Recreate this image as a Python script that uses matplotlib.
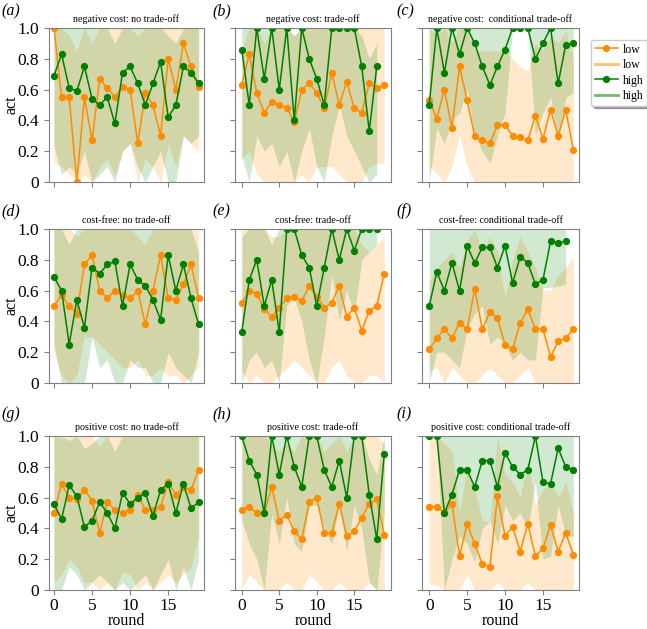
import numpy as np
import matplotlib
matplotlib.use("Agg")
import matplotlib.pyplot as plt
from matplotlib.lines import Line2D

# data: mean act per round for "low" and "high" groups, plus shaded band
nan = np.nan
rounds = np.arange(20)

titles = ["negative cost: no trade-off", "negative cost: trade-off",
          "negative cost:  conditional trade-off",
          "cost-free: no trade-off", "cost-free: trade-off",
          "cost-free: conditional trade-off",
          "positive cost: no trade-off", "positive cost: trade-off",
          "positive cost: conditional trade-off"]
panel_labels = ["(a)", "(b)", "(c)", "(d)", "(e)", "(f)", "(g)", "(h)", "(i)"]

# (a)
a_low = [1.0, 0.55, 0.55, 0.0, 0.55, 0.27, 0.67, 0.61, 0.55, 0.62, 0.6, 0.25, 0.58, 0.5, 0.3, 0.8, 0.6, 0.9, 0.75, 0.62]
a_low_lo = [0.12, 0.1, 0.05, 0.0, 0.05, 0.0, 0.1, 0.15, 0.05, 0.2, 0.25, 0.0, 0.15, 0.1, 0.0, 0.25, 0.1, 0.3, 0.25, 0.2]
a_low_hi = [1.0, 1.0, 0.95, 0.85, 1.0, 0.9, 1.0, 1.0, 1.0, 1.0, 1.0, 0.95, 1.0, 1.0, 1.0, 1.0, 1.0, 1.0, 1.0, 1.0]
a_high = [0.69, 0.83, 0.61, 0.59, 0.75, 0.54, 0.5, 0.55, 0.38, 0.71, 0.75, 0.64, 0.5, 0.64, 0.78, 0.42, 0.5, 0.75, 0.71, 0.64]
a_high_lo = [0.23, 0.05, 0.1, 0.05, 0.2, 0.0, 0.05, 0.1, 0.0, 0.2, 0.25, 0.1, 0.0, 0.1, 0.2, 0.0, 0.0, 0.3, 0.25, 0.3]
a_high_hi = [1.0, 1.0, 1.0, 1.0, 1.0, 1.0, 1.0, 1.0, 0.9, 1.0, 1.0, 1.0, 1.0, 1.0, 1.0, 0.95, 0.9, 1.0, 1.0, 1.0]

# (b)
b_low = [0.63, 0.83, 0.58, 0.45, 0.52, 0.5, 0.48, 0.39, 0.6, 0.64, 0.58, 0.48, 0.71, 0.5, 0.65, 0.48, 0.45, 0.64, 0.61, 0.63]
b_low_lo = [0.15, 0.2, 0.05, 0.0, 0.0, 0.0, 0.0, 0.0, 0.05, 0.0, 0.1, 0.1, 0.1, 0.05, 0.0, 0.0, 0.0, 0.1, 0.12, 0.12]
b_low_hi = [0.85, 1.0, 1.0, 0.9, 1.0, 1.0, 1.0, 0.95, 1.0, 1.0, 1.0, 1.0, 1.0, 1.0, 1.0, 1.0, 1.0, 1.0, 1.0, 1.0]
b_high = [0.86, 0.5, 1.0, 0.67, 1.0, 0.6, 1.0, 0.4, 1.0, 0.8, 0.67, 0.5, 1.0, 1.0, 1.0, 1.0, 0.75, 0.33, 0.75, nan]
b_high_lo = [0.17, 0.0, 0.3, 0.2, 0.25, 0.1, 0.2, 0.0, 0.2, 0.35, 0.1, 0.0, 0.3, 0.5, 0.3, 0.2, 0.1, 0.0, 0.05, nan]
b_high_hi = [1.0, 1.0, 1.0, 1.0, 1.0, 1.0, 1.0, 0.95, 1.0, 1.0, 1.0, 1.0, 1.0, 1.0, 1.0, 1.0, 0.95, 0.8, 0.9, nan]

# (c)
c_low = [0.53, 0.41, 0.6, 0.35, 0.75, 0.53, 0.3, 0.27, 0.25, 0.37, 0.37, 0.3, 0.29, 0.27, 0.43, 0.28, 0.47, 0.3, 0.47, 0.21]
c_low_lo = [0.1, 0.05, 0.0, 0.1, 0.3, 0.1, 0.0, 0.0, 0.0, 0.0, 0.0, 0.0, 0.0, 0.0, 0.0, 0.0, 0.0, 0.0, 0.0, 0.0]
c_low_hi = [1.0, 0.95, 1.0, 0.9, 1.0, 1.0, 0.85, 0.85, 0.85, 0.85, 0.85, 0.8, 0.75, 0.72, 0.9, 0.85, 0.95, 0.9, 0.98, 0.8]
c_high = [0.5, 1.0, 0.71, 1.0, 0.83, 1.0, 0.9, 0.75, 0.63, 0.75, 0.86, 1.0, 1.0, 1.0, 0.8, 0.9, 1.0, 0.64, 0.89, 0.9]
c_high_lo = [0.0, 0.35, 0.25, 0.4, 0.45, 0.6, 0.3, 0.2, 0.12, 0.3, 0.45, 1.0, 1.0, 1.0, 0.3, 0.45, 0.55, 0.25, 0.55, 0.58]
c_high_hi = [1.0, 1.0, 1.0, 1.0, 1.0, 1.0, 1.0, 1.0, 1.0, 1.0, 1.0, 1.0, 1.0, 1.0, 1.0, 1.0, 1.0, 1.0, 1.0, 1.0]

# (d)
d_low = [0.5, 0.57, 0.5, 0.45, 0.77, 0.83, 0.6, 0.55, 0.6, 0.57, 0.55, 0.6, 0.38, 0.6, 0.83, 0.55, 0.54, 0.64, 0.77, 0.55]
d_low_lo = [0.2, 0.05, 0.0, 0.05, 0.3, 0.3, 0.25, 0.2, 0.15, 0.1, 0.1, 0.15, 0.05, 0.05, 0.1, 0.05, 0.05, 0.0, 0.05, 0.1]
d_low_hi = [1.0, 1.0, 1.0, 0.95, 1.0, 1.0, 1.0, 1.0, 1.0, 1.0, 1.0, 0.95, 0.9, 1.0, 1.0, 1.0, 1.0, 1.0, 1.0, 1.0]
d_high = [0.69, 0.6, 0.25, 0.54, 0.36, 0.75, 0.71, 0.77, 0.79, 0.5, 0.77, 0.67, 0.63, 0.54, 0.41, 0.83, 0.6, 0.77, 0.55, 0.38]
d_high_lo = [0.25, 0.0, 0.0, 0.0, 0.0, 0.3, 0.1, 0.15, 0.0, 0.0, 0.15, 0.1, 0.1, 0.0, 0.0, 0.2, 0.1, 0.05, 0.0, 0.2]
d_high_hi = [1.0, 1.0, 0.9, 1.0, 1.0, 1.0, 1.0, 1.0, 1.0, 1.0, 1.0, 1.0, 1.0, 1.0, 1.0, 1.0, 1.0, 1.0, 1.0, 0.85]

# (e)
e_low = [0.52, 0.6, 0.58, 0.48, 0.43, 0.49, 0.55, 0.56, 0.53, 0.63, 0.56, 0.49, 0.52, 0.63, 0.43, 0.49, 0.34, 0.47, 0.5, 0.71]
e_low_lo = [0.08, 0.0, 0.05, 0.0, 0.0, 0.05, 0.1, 0.15, 0.1, 0.05, 0.0, 0.0, 0.1, 0.15, 0.05, 0.0, 0.0, 0.05, 0.05, 0.0]
e_low_hi = [1.0, 1.0, 1.0, 1.0, 0.95, 0.95, 1.0, 1.0, 1.0, 1.0, 1.0, 1.0, 1.0, 1.0, 1.0, 1.0, 0.9, 0.85, 0.9, 0.95]
e_high = [0.33, 0.67, 0.8, 0.5, 0.67, 0.33, 1.0, 1.0, 0.83, 0.75, 0.5, 0.75, 1.0, 0.8, 1.0, 0.86, 1.0, 1.0, 1.0, nan]
e_high_lo = [0.0, 0.15, 0.2, 0.1, 0.15, 0.0, 0.5, 0.55, 0.4, 0.15, 0.0, 0.3, 0.7, 0.4, 0.6, 0.45, 0.8, 0.85, 0.9, nan]
e_high_hi = [0.95, 1.0, 1.0, 1.0, 0.9, 1.0, 1.0, 1.0, 1.0, 1.0, 1.0, 1.0, 1.0, 1.0, 1.0, 1.0, 1.0, 1.0, 1.0, nan]

# (f)
f_low = [0.22, 0.29, 0.35, 0.29, 0.39, 0.35, 0.61, 0.35, 0.46, 0.42, 0.25, 0.22, 0.39, 0.48, 0.35, 0.35, 0.17, 0.27, 0.29, 0.35]
f_low_lo = [0.08, 0.1, 0.0, 0.1, 0.05, 0.0, 0.0, 0.05, 0.1, 0.05, 0.0, 0.0, 0.05, 0.1, 0.0, 0.0, 0.0, 0.0, 0.0, 0.0]
f_low_hi = [0.65, 0.75, 0.8, 0.85, 0.75, 0.92, 1.0, 0.85, 0.95, 0.85, 0.55, 0.8, 0.95, 0.85, 0.75, 0.6, 0.6, 0.7, 0.75, 0.82]
f_high = [0.5, 0.72, 0.6, 0.78, 0.6, 0.89, 0.78, 0.88, 0.88, 0.75, 0.89, 0.65, 0.82, 0.78, 0.64, 0.67, 0.92, 0.91, 0.92, nan]
f_high_lo = [0.0, 0.2, 0.2, 0.15, 0.1, 0.35, 0.45, 0.5, 0.25, 0.3, 0.25, 0.15, 0.2, 0.15, 0.15, 0.62, 0.62, 0.63, 0.64, nan]
f_high_hi = [1.0, 1.0, 1.0, 1.0, 1.0, 1.0, 1.0, 1.0, 1.0, 1.0, 1.0, 1.0, 1.0, 1.0, 1.0, 1.0, 1.0, 1.0, 1.0, nan]

# (g)
g_low = [0.5, 0.69, 0.6, 0.59, 0.65, 0.58, 0.37, 0.57, 0.52, 0.5, 0.52, 0.62, 0.52, 0.52, 0.54, 0.7, 0.62, 0.67, 0.65, 0.78]
g_low_lo = [0.05, 0.1, 0.2, 0.15, 0.05, 0.05, 0.0, 0.05, 0.0, 0.12, 0.1, 0.0, 0.05, 0.0, 0.05, 0.1, 0.05, 0.1, 0.15, 0.35]
g_low_hi = [1.0, 0.98, 1.0, 1.0, 1.0, 1.0, 0.93, 1.0, 1.0, 1.0, 1.0, 1.0, 1.0, 1.0, 1.0, 1.0, 1.0, 1.0, 1.0, 1.0]
g_high = [0.56, 0.46, 0.68, 0.61, 0.41, 0.45, 0.57, 0.5, 0.4, 0.63, 0.56, 0.6, 0.63, 0.48, 0.65, 0.69, 0.5, 0.69, 0.53, 0.57]
g_high_lo = [0.0, 0.0, 0.15, 0.1, 0.0, 0.05, 0.1, 0.05, 0.0, 0.05, 0.0, 0.05, 0.1, 0.0, 0.1, 0.2, 0.0, 0.15, 0.0, 0.2]
g_high_hi = [1.0, 1.0, 0.97, 1.0, 0.92, 0.95, 1.0, 1.0, 0.9, 1.0, 1.0, 1.0, 1.0, 1.0, 1.0, 1.0, 1.0, 1.0, 1.0, 1.0]

# (h)
h_low = [0.52, 0.54, 0.5, 0.5, 0.67, 0.45, 0.49, 0.38, 0.33, 0.57, 0.6, 0.37, 0.37, 0.56, 0.35, 0.38, 0.47, 0.56, 0.59, 0.36]
h_low_lo = [0.0, 0.1, 0.05, 0.0, 0.0, 0.0, 0.05, 0.0, 0.0, 0.1, 0.05, 0.0, 0.0, 0.05, 0.0, 0.0, 0.0, 0.05, 0.0, 0.0]
h_low_hi = [1.0, 1.0, 1.0, 1.0, 0.95, 0.9, 0.95, 0.9, 1.0, 1.0, 1.0, 0.9, 0.95, 1.0, 0.9, 1.0, 1.0, 1.0, 1.0, 0.95]
h_high = [1.0, 0.84, 0.75, 0.5, 1.0, 0.75, 1.0, 0.8, 0.67, 1.0, 1.0, 0.78, 0.67, 0.84, 0.6, 1.0, 1.0, 0.62, 0.33, 0.88]
h_high_lo = [0.45, 0.3, 0.2, 0.0, 0.5, 0.3, 0.6, 0.3, 0.25, 0.55, 0.55, 0.4, 0.3, 0.55, 0.25, 0.55, 0.4, 0.05, 0.0, 0.5]
h_high_hi = [1.0, 1.0, 1.0, 1.0, 1.0, 1.0, 1.0, 1.0, 1.0, 1.0, 1.0, 1.0, 1.0, 1.0, 1.0, 1.0, 1.0, 0.85, 0.75, 1.0]

# (i)
i_low = [0.54, 0.54, 0.5, 0.56, 0.22, 0.43, 0.3, 0.17, 0.15, 0.61, 0.35, 0.41, 0.25, 0.43, 0.22, 0.27, 0.42, 0.25, 0.37, 0.23]
i_low_lo = [0.04, 0.03, 0.0, 0.0, 0.0, 0.1, 0.0, 0.0, 0.0, 0.05, 0.0, 0.0, 0.0, 0.05, 0.0, 0.0, 0.0, 0.0, 0.0, 0.0]
i_low_hi = [1.0, 1.0, 0.95, 0.9, 0.5, 0.8, 0.65, 0.45, 0.45, 1.0, 0.75, 0.7, 0.6, 0.85, 0.55, 0.65, 0.7, 0.6, 0.7, 0.5]
i_high = [1.0, 1.0, 0.5, 0.62, 0.78, 0.78, 0.67, 0.84, 0.84, 0.67, 0.89, 0.8, 0.75, 0.78, 1.0, 0.7, 0.69, 0.92, 0.8, 0.78]
i_high_lo = [1.0, 1.0, 0.0, 0.2, 0.35, 0.3, 0.18, 0.4, 0.45, 0.3, 0.55, 0.45, 0.5, 0.4, 0.7, 0.2, 0.22, 0.55, 0.35, 0.35]
i_high_hi = [1.0, 1.0, 1.0, 1.0, 1.0, 1.0, 1.0, 1.0, 1.0, 1.0, 1.0, 1.0, 1.0, 1.0, 1.0, 1.0, 1.0, 1.0, 1.0, 1.0]

panels = [
    (a_low, a_low_lo, a_low_hi, a_high, a_high_lo, a_high_hi),
    (b_low, b_low_lo, b_low_hi, b_high, b_high_lo, b_high_hi),
    (c_low, c_low_lo, c_low_hi, c_high, c_high_lo, c_high_hi),
    (d_low, d_low_lo, d_low_hi, d_high, d_high_lo, d_high_hi),
    (e_low, e_low_lo, e_low_hi, e_high, e_high_lo, e_high_hi),
    (f_low, f_low_lo, f_low_hi, f_high, f_high_lo, f_high_hi),
    (g_low, g_low_lo, g_low_hi, g_high, g_high_lo, g_high_hi),
    (h_low, h_low_lo, h_low_hi, h_high, h_high_lo, h_high_hi),
    (i_low, i_low_lo, i_low_hi, i_high, i_high_lo, i_high_hi),
]

plt.rcParams['font.family'] = 'serif'
plt.rcParams['font.serif'] = ['Liberation Serif', 'DejaVu Serif']

low_c = 'darkorange'
high_c = 'green'
spine_c = '#808080'

W, H = 647, 629
fig = plt.figure(figsize=(W / 100, H / 100), dpi=100)

col_left = [49, 235, 422]
col_w = [155, 156, 157]
col_xlim = [(-0.65, 19.7), (-0.9, 19.9), (-0.95, 19.75)]
row_top = [28, 229, 436]
ax_h = 154
lab_x = [1, 212, 396]
lab_y = [11, 211, 414]

for k, (lo_m, lo_l, lo_h, hi_m, hi_l, hi_h) in enumerate(panels):
    r, c = divmod(k, 3)
    ax = fig.add_axes([col_left[c] / W, 1 - (row_top[r] + ax_h) / H, col_w[c] / W, ax_h / H])
    ax.fill_between(rounds, lo_l, lo_h, color=low_c, alpha=0.2, linewidth=0)
    ax.fill_between(rounds, hi_l, hi_h, color=high_c, alpha=0.18, linewidth=0)
    ax.plot(rounds, lo_m, color=low_c, marker='o', ms=4.2, lw=1.1)
    ax.plot(rounds, hi_m, color=high_c, marker='o', ms=4.2, lw=1.1)
    ax.set_ylim(0, 1)
    ax.set_xlim(*col_xlim[c])
    ax.set_xticks([0, 5, 10, 15])
    ax.set_yticks([0, 0.2, 0.4, 0.6, 0.8, 1.0])
    ax.set_yticklabels(['0', '0.2', '0.4', '0.6', '0.8', '1.0'])
    for s in ax.spines.values():
        s.set_color(spine_c)
    ax.tick_params(colors=spine_c, labelcolor='black', labelsize=12.5, length=3.5)
    ax.tick_params(axis='x', pad=2)
    if c != 0:
        ax.tick_params(labelleft=False)
    else:
        ax.set_ylabel('act', fontsize=11.5, va='center')
        ax.yaxis.set_label_coords(-38 / col_w[c], 0.5)
    if r != 2:
        ax.tick_params(labelbottom=False)
    else:
        ax.set_xlabel('round', fontsize=11.5, va='baseline')
        ax.xaxis.set_label_coords(0.5, -35 / ax_h)
    ax.set_title(titles[k], fontsize=7.2, pad=4)
    fig.text(lab_x[c] / W, 1 - lab_y[r] / H, panel_labels[k], fontsize=11.5,
             style='italic', ha='left', va='center')

handles = [Line2D([], [], color=low_c, marker='o', ms=4.2, lw=1.1),
           Line2D([], [], color=low_c, alpha=0.55, lw=2),
           Line2D([], [], color=high_c, marker='o', ms=4.2, lw=1.1),
           Line2D([], [], color=high_c, alpha=0.55, lw=2)]
fig.legend(handles, ['low', 'low', 'high', 'high'], loc='upper left',
           bbox_to_anchor=(591 / W, 1 - 40 / H), borderaxespad=0, fontsize=8.5,
           labelspacing=0.3, borderpad=0.3, handlelength=2.0,
           handletextpad=0.4, shadow=True)

fig.savefig('out.png', dpi=100)
